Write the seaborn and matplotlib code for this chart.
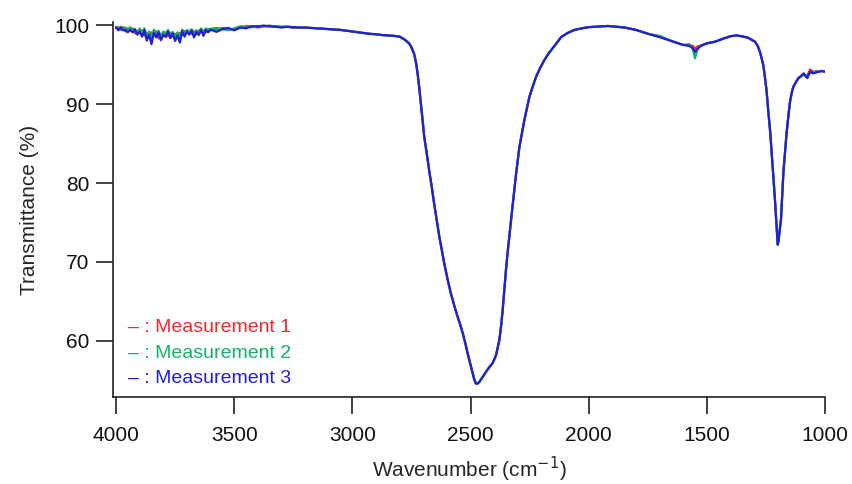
import numpy as np
import pandas as pd
import matplotlib
matplotlib.use("Agg")
import matplotlib.pyplot as plt
import seaborn as sns

# ---- spectrum data -------------------------------------------------------
# Noisy high-wavenumber segment, 4000 -> 3600 cm-1 every 10 cm-1
wn_head = list(range(4000, 3590, -10))
base_head = [99.6, 99.55, 99.5, 99.45, 99.4, 99.4, 99.35, 99.3, 99.25, 99.2,
             99.2, 99.15, 99.1, 99.05, 99.0, 99.0, 98.95, 98.95, 98.9, 98.9,
             98.9, 98.9, 98.9, 98.95, 98.95, 99.0, 99.0, 99.0, 99.05, 99.05,
             99.1, 99.1, 99.1, 99.15, 99.15, 99.15, 99.2, 99.25, 99.3, 99.3,
             99.35]
jitter_m1 = [0.0, 0.2, -0.1, 0.3, -0.2, 0.2, -0.1, 0.3, -0.3, 0.1,
             -0.2, 0.2, -0.4, 0.0, -0.5, 0.1, -0.3, 0.3, -0.6, 0.0,
             -0.2, 0.2, -0.3, 0.1, -0.4, -0.1, -0.2, 0.0, -0.3, 0.2,
             -0.1, 0.2, -0.2, 0.1, -0.3, 0.2, -0.1, 0.1, -0.2, 0.2, 0.0]
jitter_m2 = [0.2, 0.0, 0.3, 0.1, 0.3, -0.1, 0.4, 0.0, 0.3, -0.2,
             0.4, -0.3, 0.5, -0.5, 0.2, -0.7, 0.5, -0.2, 0.4, -0.4,
             0.3, -0.1, 0.5, -0.3, 0.2, -0.5, 0.1, -0.6, 0.4, -0.2,
             0.3, 0.0, 0.4, -0.3, 0.2, -0.1, 0.4, -0.2, 0.3, 0.0, 0.2]
jitter_m3 = [0.1, -0.2, 0.2, -0.1, 0.0, -0.3, 0.1, -0.2, 0.2, -0.4,
             0.0, -0.6, 0.3, -1.0, -0.2, -1.4, 0.1, -0.5, 0.2, -0.8,
             -0.1, -0.4, 0.3, -0.6, 0.0, -1.0, -0.3, -1.2, 0.2, -0.5,
             0.1, -0.3, 0.2, -0.7, 0.0, -0.4, 0.2, -0.6, 0.1, -0.2, 0.1]

# Remainder of the spectrum, shared by all three measurements
wn_tail = [3575, 3550, 3525, 3500, 3475, 3450, 3425, 3400, 3375, 3350,
           3325, 3300, 3275, 3250, 3225, 3200, 3175, 3150, 3125, 3100,
           3075, 3050, 3025, 3000, 2975, 2950, 2925, 2900, 2875, 2850,
           2825, 2800, 2780, 2760, 2750, 2739, 2731, 2724, 2717, 2710,
           2703, 2696, 2685, 2675, 2664, 2654, 2643, 2632, 2621, 2611,
           2597, 2583, 2569, 2555, 2544, 2533, 2522, 2512, 2501, 2491,
           2484, 2477, 2470, 2463, 2456, 2445, 2434, 2420, 2406, 2392,
           2378, 2371, 2364, 2357, 2350, 2343, 2336, 2328, 2321, 2314,
           2307, 2300, 2293, 2282, 2272, 2261, 2251, 2236, 2222, 2205,
           2187, 2170, 2152, 2134, 2116, 2090, 2060, 2030, 2000, 1950,
           1918, 1880, 1847, 1800, 1748, 1700, 1650, 1621, 1600, 1575,
           1560, 1550, 1540, 1525, 1500, 1466, 1430, 1400, 1375, 1353,
           1325, 1296, 1285, 1275, 1268, 1261, 1254, 1247, 1240, 1232,
           1225, 1218, 1212, 1207, 1202, 1200, 1197, 1192, 1186, 1181,
           1176, 1169, 1162, 1155, 1148, 1141, 1134, 1123, 1112, 1090,
           1075, 1063, 1050, 1040, 1027, 1015, 1000]
base_tail = [99.45, 99.5, 99.55, 99.6, 99.7, 99.8, 99.85, 99.85, 99.85, 99.85,
             99.8, 99.8, 99.8, 99.75, 99.7, 99.7, 99.65, 99.6, 99.55, 99.5,
             99.45, 99.4, 99.3, 99.2, 99.1, 99.0, 98.9, 98.85, 98.75, 98.7,
             98.65, 98.55, 98.2, 97.7, 97.2, 96.4, 95.3, 93.9, 92.1, 90.1,
             88.0, 85.9, 83.7, 81.6, 79.5, 77.4, 75.3, 73.2, 71.4, 69.8,
             67.8, 66.0, 64.5, 63.1, 62.1, 61.0, 59.7, 58.4, 57.1, 55.9,
             55.1, 54.6, 54.6, 54.8, 55.1, 55.6, 56.1, 56.7, 57.2, 58.2,
             60.1, 61.8, 63.9, 66.4, 69.0, 71.2, 73.2, 75.4, 77.4, 79.3,
             81.2, 82.9, 84.6, 86.4, 88.0, 89.5, 90.9, 92.3, 93.5, 94.6,
             95.6, 96.4, 97.1, 97.8, 98.5, 99.0, 99.4, 99.6, 99.75, 99.85,
             99.9, 99.8, 99.7, 99.4, 98.9, 98.5, 98.0, 97.7, 97.5, 97.4,
             97.3, 97.2, 97.3, 97.4, 97.7, 97.9, 98.3, 98.6, 98.7, 98.6,
             98.4, 97.9, 97.4, 96.6, 95.8, 94.9, 93.4, 91.6, 89.1, 86.5,
             83.6, 80.6, 78.0, 75.5, 73.2, 72.2, 72.6, 73.9, 75.5, 78.4,
             81.4, 84.0, 86.5, 88.5, 90.3, 91.4, 92.2, 92.8, 93.3, 93.7,
             93.6, 94.1, 93.9, 94.0, 94.1, 94.2, 94.1]

# Individual deviations of each measurement at selected wavenumbers
tail_dev_m1 = {3550: 0.15, 3500: -0.2, 3450: 0.1, 3400: -0.15, 3350: 0.1,
               3250: -0.1, 1560: 0.1, 1550: -0.2, 1063: 0.3, 1050: 0.2}
tail_dev_m2 = {3575: 0.2, 3525: -0.2, 3475: 0.15, 3425: -0.1, 3325: 0.1,
               1700: 0.15, 1575: 0.2, 1560: -0.3, 1550: -1.4, 1540: -0.4,
               1075: -0.2, 1040: 0.2}
tail_dev_m3 = {3575: -0.3, 3525: 0.1, 3500: -0.25, 3450: -0.2, 3375: 0.1,
               3300: -0.1, 1560: -0.2, 1550: -0.6, 1540: -0.3, 1090: 0.2,
               1075: -0.3}

series_names = ["Measurement 1", "Measurement 2", "Measurement 3"]
series_colors = ["#f0282d", "#12b368", "#2020d8"]


def build(jitter, dev):
    t_head = [b + j for b, j in zip(base_head, jitter)]
    t_tail = [b + dev.get(w, 0.0) for w, b in zip(wn_tail, base_tail)]
    return wn_head + wn_tail, t_head + t_tail


frames = []
for name, jit, dev in zip(series_names,
                          [jitter_m1, jitter_m2, jitter_m3],
                          [tail_dev_m1, tail_dev_m2, tail_dev_m3]):
    w, t = build(jit, dev)
    frames.append(pd.DataFrame({"Wavenumber": w, "Transmittance": t,
                                "Series": name}))
df = pd.concat(frames, ignore_index=True)

# ---- figure --------------------------------------------------------------
sns.set_style("ticks")
plt.rcParams["font.family"] = ["Liberation Sans", "DejaVu Sans"]

fig = plt.figure(figsize=(8.52, 4.84), dpi=100)
ax = fig.add_axes([0.1326, 0.1798, 0.8357, 0.7747])

sns.lineplot(data=df, x="Wavenumber", y="Transmittance", hue="Series",
             palette=dict(zip(series_names, series_colors)),
             sort=False, estimator=None, linewidth=1.6, ax=ax, legend=False)

ax.set_xlim(4013, 1000)
ax.set_ylim(52.9, 100.4)
ax.set_xticks([4000, 3500, 3000, 2500, 2000, 1500, 1000])
ax.set_yticks([60, 70, 80, 90, 100])

for side in ("top", "right"):
    ax.spines[side].set_visible(False)
for side in ("left", "bottom"):
    ax.spines[side].set_linewidth(1.2)
    ax.spines[side].set_color("#222222")

ax.tick_params(axis="both", direction="out", length=12, width=1.2,
               color="#222222", labelsize=15, labelcolor="#111111")
ax.tick_params(axis="x", pad=9)
ax.tick_params(axis="y", pad=5)

ax.set_xlabel("Wavenumber (cm$^{-1}$)", fontsize=15, labelpad=7)
ax.set_ylabel("Transmittance (%)", fontsize=15, labelpad=11)

# Coloured key in the lower-left corner
for i, (name, col) in enumerate(zip(series_names, series_colors)):
    ax.text(0.021, 0.184 - i * 0.067, "\u2013 : " + name, color=col,
            fontsize=14, transform=ax.transAxes, va="center", ha="left")

fig.savefig("out.png", dpi=100)
